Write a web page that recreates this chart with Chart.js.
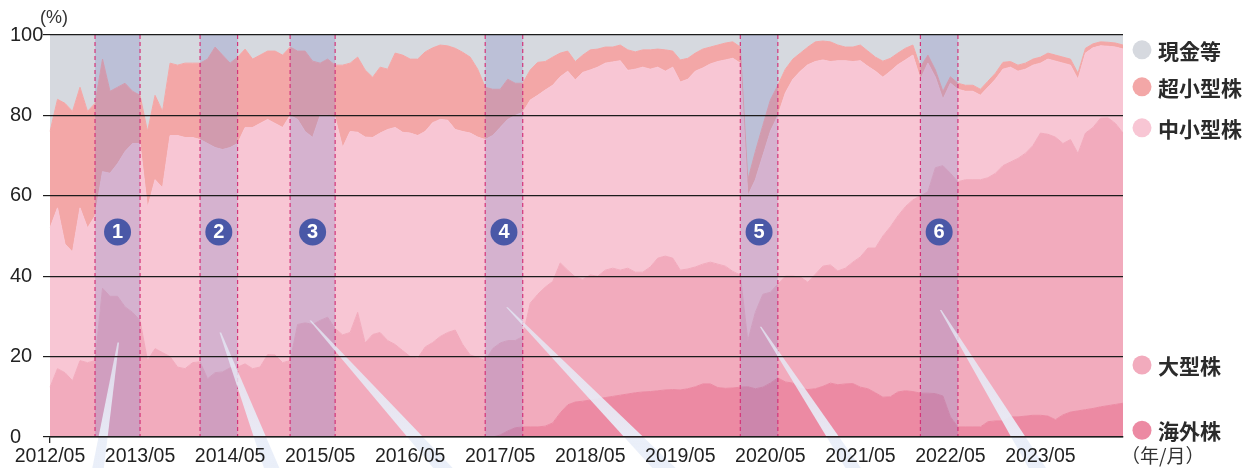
<!DOCTYPE html>
<html><head><meta charset="utf-8">
<script src="https://cdn.jsdelivr.net/npm/chart.js@4.4.1/dist/chart.umd.min.js"></script>
<style>html,body{margin:0;padding:0;background:#fff;}canvas{display:block;}</style>
</head><body>
<canvas id="c" width="1254" height="468"></canvas>
<script>
// ---- categories: monthly, 2012/05 .. 2024/04 ----
const firstYear = 2012, firstMonth = 5, monthCount = 144;
const months = [];
for (let k = 0; k < monthCount; k++) {
  const m = firstMonth - 1 + k;
  months.push((firstYear + Math.floor(m / 12)) + '/' + String(m % 12 + 1).padStart(2, '0'));
}
const tickLabels = ['2012/05','2013/05','2014/05','2015/05','2016/05','2017/05','2018/05','2019/05','2020/05','2021/05','2022/05','2023/05'];
const yTicks = [0, 20, 40, 60, 80, 100];

// ---- series (%) ----
const overseas = [
0,0,0,0,0,0,0,0,0,0,0,0,
0,0,0,0,0,0,0,0,0,0,0,0,
0,0,0,0,0,0,0,0,0,0,0,0,
0,0,0,0,0,0,0,0,0,0,0,0,
0,0,0,0,0,0,0,0,0,0,0,0,
0.5,1.5,2.3,2.5,2.5,2.5,2.7,3.5,6,8,8.7,8.9,
9.2,9.5,9.8,10.1,10.4,10.7,11,11.2,11.3,11.5,11.7,11.8,
11.7,12,12.5,13.2,13.2,12.3,12.1,12.2,12.4,12.5,12,12.4,
13.4,14.7,13.7,13.4,12.1,11.8,12,12.6,13.4,13,13.2,13.3,
12.4,12,11,9.9,10,11.2,11.5,11.3,10.9,10.9,10.8,10.2,
5,2.5,2.5,2.5,2.5,3.8,4,4,5,5,5.2,5.4,
5.4,5.2,4.3,5.5,6.2,6.5,6.8,7.1,7.5,7.8,8.1,8.4];
const largeCap = [
12.4,17,16,14,19,18.5,19,37,35,35,32.4,31,
29,19,22,21,20,17.4,17,18.5,18.7,14.5,16,16.2,
17.2,17.4,18.2,17,17.4,20.5,20.4,18.5,19,28,28.4,28,
29,29.8,27,25.4,26,31,23.4,25.5,26,24,23,21.5,
20,19.6,22.4,23.5,25,26,26.6,23,20.4,19.8,19,22,
22.9,22.5,21.7,22.5,30.8,33,34.6,35.2,37.3,33.5,31.1,30.3,
31.1,30.5,31.7,31.9,31.1,31.3,30,29.8,31,33,33.3,32.7,
29.8,29.8,29.8,29.8,30.3,30.7,30.4,29,27.9,11.5,19,23.1,
22.6,23.3,26.3,26.6,27.7,26.7,28.5,29.9,29.4,28.3,28.8,30.2,
32.4,35,36,40.1,42.3,43.8,45.8,47.7,49.1,50.1,56.2,57.3,
60.6,61,61.5,61.5,61.5,60.7,61.6,63.5,63.4,64.3,65.4,67.1,
70.2,70.1,70.3,67.5,67.8,64,68.8,69.9,71.8,71.6,69.9,67.2];
const smallMidCap = [
39.6,40,32,32,38,33.5,36,29,30.6,33,38.6,42,
44,38,42,41,55,57.6,57.5,56,55.3,58.5,56,55.3,
54.8,55.6,58.8,60,60.6,58.5,57.6,58.5,61,51,47.6,46.5,
51,50.2,52.5,46.6,50,44.8,51.2,49,49.6,52.5,54,54.3,
55.6,55.4,53.6,54.7,54,52.8,49.9,53,55.2,54.8,55,53,
53.6,55,56,55.8,50.5,49.5,49,48.8,46.3,49.5,49,51.5,
51,52,51.5,51.3,52.1,49.2,50.5,51,49.2,47.5,46,47.5,
46.8,47.2,48.7,48.8,49.3,50.4,51.3,53,52.7,36,33,34.5,
40,42,45.6,49,51.2,54.1,52.9,51.3,50.6,52.3,51.6,49.9,
48.8,45.2,44,39.5,38.7,37.6,36.5,36,29,32,22.5,16.5,
22.4,23,22,22,21,22.5,23.4,24,23.6,21.7,20.9,20,
17.4,18.7,18.9,20,18.5,18.5,19.9,19.8,18,17.8,19,20.9];
const microCap = [
24,27,35,35,30,29,28,28,20.4,19,17,13,
12,19,21,19,18,17.5,18.5,18.5,19,21,25,23.5,
21,21.5,19.5,17,17,17,18,18,17,17,20,19,
13,14,13,20.5,17,18.7,16.7,15,16.4,15,18.5,19.2,
18.4,19,19.8,18.6,18.5,18.5,20.2,19.7,18.9,16.9,13,11.5,
9.5,10,8,7.2,7.5,8.2,7.1,7,5.9,5,4.6,4.3,
5,4.5,4,3.7,3.9,5.1,4.3,4.3,4.8,4.5,5.3,4,
5.5,5.2,4.5,4.7,4.2,4.1,4.2,4.1,4,4,7,7.5,
7.8,7.5,5.9,5,4.5,4.4,4.9,4.7,4.9,3.9,3.4,3.6,
3.9,3.8,3.5,4,3.2,2.9,2.9,2.5,3,2,1.8,2,
1.6,1.5,1.5,1.5,1.5,1.5,1.5,1.7,1.4,1.5,1.5,1.5,
1.5,1.5,1.5,1.5,1.5,1.5,1.2,1,1,1,1,1];
const cash = [
24,16,17,19,13,19,17,6,14,13,12,14,
15,24,15,19,7,7.5,7,7,7,6,3,5,
7,5.5,3.5,6,5,4,4,5,3,4,4,6.5,
7,6,7.5,7.5,7,5.5,8.7,10.5,8,8.5,4.5,5,
6,6,4.2,3.2,2.5,2.7,3.3,4.3,5.5,8.5,13,13.5,
13.5,11,12,12,8.7,6.8,6.6,5.5,4.5,4,6.6,5,
3.7,3.5,3,3,2.5,3.7,4.2,3.7,3.7,3.5,3.7,4,
6.2,5.8,4.5,3.5,3,2.5,2,1.7,3,36,29,22.5,
16.2,12.5,8.5,6,4.5,3,1.7,1.5,1.7,2.5,3,3,
2.5,4,5.5,6.5,5.8,4.5,3.3,2.5,8,5,8.7,14,
10.4,12,12.5,12.5,13.5,11.5,9.5,6.8,6.6,7.5,7,6,
5.5,4.5,5,5.5,6,9.5,3.3,2.2,1.7,1.8,2,2.5];

const seriesNames = ['海外株','大型株','中小型株','超小型株','現金等'];

// ---- highlighted periods ----
const bandStart = ['2012/11','2014/01','2015/01','2017/03','2020/01','2022/01'];
const bandEnd   = ['2013/05','2014/06','2015/07','2017/08','2020/06','2022/06'];
const bandNumbers = ['1','2','3','4','5','6'];

// ---- styling (kept apart from data) ----
const COLORS = ['#ec8aa3','#f2abbd','#f8c6d4','#f3a7a7','#d6d9df'];
const FONT_NUM = "'Liberation Sans Narrow','Liberation Sans',Arial,sans-serif";
const FONT_JP = "'Noto Sans CJK JP','Noto Sans CJK SC',sans-serif";
const legendOrder = [4,3,2,1,0];
const legendAt = [96.3, 87.1, 76.9, 17.9, 1.7];   // y (in %) where each legend row sits
// callout wedges: apex (month index, %) -> base (month index, %), half width px
const callouts = [
  {ax: 9.1,  ay: 23.5, bx: 6.3,   by: -9, hw: 6},
  {ax: 22.7, ay: 26,   bx: 29.8,  by: -9, hw: 8},
  {ax: 34.7, ay: 29,   bx: 53.0,  by: -9, hw: 10},
  {ax: 60.9, ay: 32.3, bx: 82.5,  by: -9, hw: 12},
  {ax: 94.7, ay: 27.4, bx: 107.5, by: -9, hw: 8},
  {ax: 118.7,ay: 31.6, bx: 132.0, by: -9, hw: 9}
];

const seriesData = [overseas, largeCap, smallMidCap, microCap, cash];
const datasets = seriesData.map((d, k) => ({
  label: seriesNames[k], data: d,
  backgroundColor: COLORS[k], borderColor: COLORS[k], borderWidth: 1,
  fill: k === 0 ? 'origin' : '-1', pointRadius: 0, tension: 0
}));

const bandsPlugin = {
  id: 'bands',
  afterDatasetsDraw(chart) {
    const {ctx, chartArea: a, scales: {x, y}} = chart;
    ctx.save();
    bandStart.forEach((s, k) => {
      const x0 = x.getPixelForValue(months.indexOf(s));
      const x1 = x.getPixelForValue(months.indexOf(bandEnd[k]));
      ctx.fillStyle = 'rgba(118,124,196,0.27)';
      ctx.fillRect(x0, a.top, x1 - x0, a.bottom - a.top);
      ctx.strokeStyle = '#d4357a';
      ctx.lineWidth = 1.2;
      ctx.setLineDash([4, 3]);
      [x0, x1].forEach(px => { ctx.beginPath(); ctx.moveTo(px, a.top); ctx.lineTo(px, a.bottom); ctx.stroke(); });
    });
    ctx.setLineDash([]);
    // callout wedges (under axis labels)
    callouts.forEach(c => {
      const ax = x.getPixelForValue(c.ax), ay = y.getPixelForValue(c.ay);
      const bx = x.getPixelForValue(c.bx), by = y.getPixelForValue(c.by);
      const g = ctx.createLinearGradient(0, ay, 0, by);
      g.addColorStop(0, 'rgba(228,234,246,0.75)');
      g.addColorStop(1, 'rgba(234,239,249,1)');
      ctx.fillStyle = g;
      ctx.beginPath();
      ctx.moveTo(ax - 0.8, ay); ctx.lineTo(ax + 0.8, ay);
      ctx.lineTo(bx + c.hw, by); ctx.lineTo(bx - c.hw, by);
      ctx.closePath(); ctx.fill();
    });
    ctx.restore();
  },
  afterDraw(chart) {
    const {ctx, chartArea: a, scales: {x, y}} = chart;
    ctx.save();
    // numbered circles
    bandStart.forEach((s, k) => {
      const x0 = x.getPixelForValue(months.indexOf(s));
      const x1 = x.getPixelForValue(months.indexOf(bandEnd[k]));
      const cx = (x0 + x1) / 2, cy = y.getPixelForValue(51);
      ctx.beginPath(); ctx.arc(cx, cy, 13.5, 0, Math.PI * 2);
      ctx.fillStyle = '#4a58a7'; ctx.fill();
      ctx.fillStyle = '#ffffff';
      ctx.font = "bold 20px 'Liberation Sans','DejaVu Sans',sans-serif";
      ctx.textAlign = 'center'; ctx.textBaseline = 'middle';
      ctx.fillText(bandNumbers[k], cx, cy + 1);
    });
    // unit labels
    ctx.fillStyle = '#333';
    ctx.font = "18px " + FONT_NUM;
    ctx.textAlign = 'center'; ctx.textBaseline = 'middle';
    ctx.fillText('(%)', a.left + 4, a.top - 17);
    ctx.font = "19px " + FONT_JP;
    ctx.textAlign = 'left';
    ctx.fillText('（年/月）', a.right - 2, a.bottom + 19);
    // legend
    legendOrder.forEach((k, r) => {
      const ly = y.getPixelForValue(legendAt[r]);
      ctx.beginPath(); ctx.arc(a.right + 19, ly, 9.5, 0, Math.PI * 2);
      ctx.fillStyle = COLORS[k]; ctx.fill();
      ctx.fillStyle = '#2b2b2b';
      ctx.font = "bold 21px " + FONT_JP;
      ctx.textAlign = 'left'; ctx.textBaseline = 'middle';
      ctx.fillText(seriesNames[k], a.right + 35, ly + 1);
    });
    ctx.restore();
  }
};

new Chart(document.getElementById('c'), {
  type: 'line',
  data: {labels: months, datasets},
  options: {
    responsive: false, animation: false, devicePixelRatio: 1, events: [],
    layout: {padding: {top: 35, right: 131, left: 10, bottom: 0}},
    plugins: {legend: {display: false}, tooltip: {enabled: false}},
    scales: {
      x: {
        ticks: {
          z: 2, autoSkip: false, maxRotation: 0, padding: 2, color: '#222',
          font: {family: FONT_NUM, size: 19.5},
          callback: (v, i) => tickLabels.includes(months[i]) ? months[i] : null
        },
        grid: {
          z: 1, drawOnChartArea: false, drawTicks: true, tickLength: 6, lineWidth: 1.3,
          color: c => tickLabels.includes(months[c.index]) ? '#222' : 'rgba(0,0,0,0)',
          tickColor: c => tickLabels.includes(months[c.index]) ? '#222' : 'rgba(0,0,0,0)'
        },
        border: {z: 1, display: true, color: '#222', width: 1.5},
        afterFit: s => { s.height = 31; }
      },
      y: {
        stacked: true, min: 0, max: 100,
        afterBuildTicks: s => { s.ticks = yTicks.map(v => ({value: v})); },
        ticks: {z: 2, crossAlign: 'far', color: '#222', font: {family: FONT_NUM, size: 20}},
        grid: {z: 1, color: '#1c1c1c', lineWidth: 1.2, drawTicks: true, tickLength: 7},
        border: {display: false},
        afterFit: s => { s.width = 40; }
      }
    }
  },
  plugins: [bandsPlugin]
});
</script>
</body></html>
